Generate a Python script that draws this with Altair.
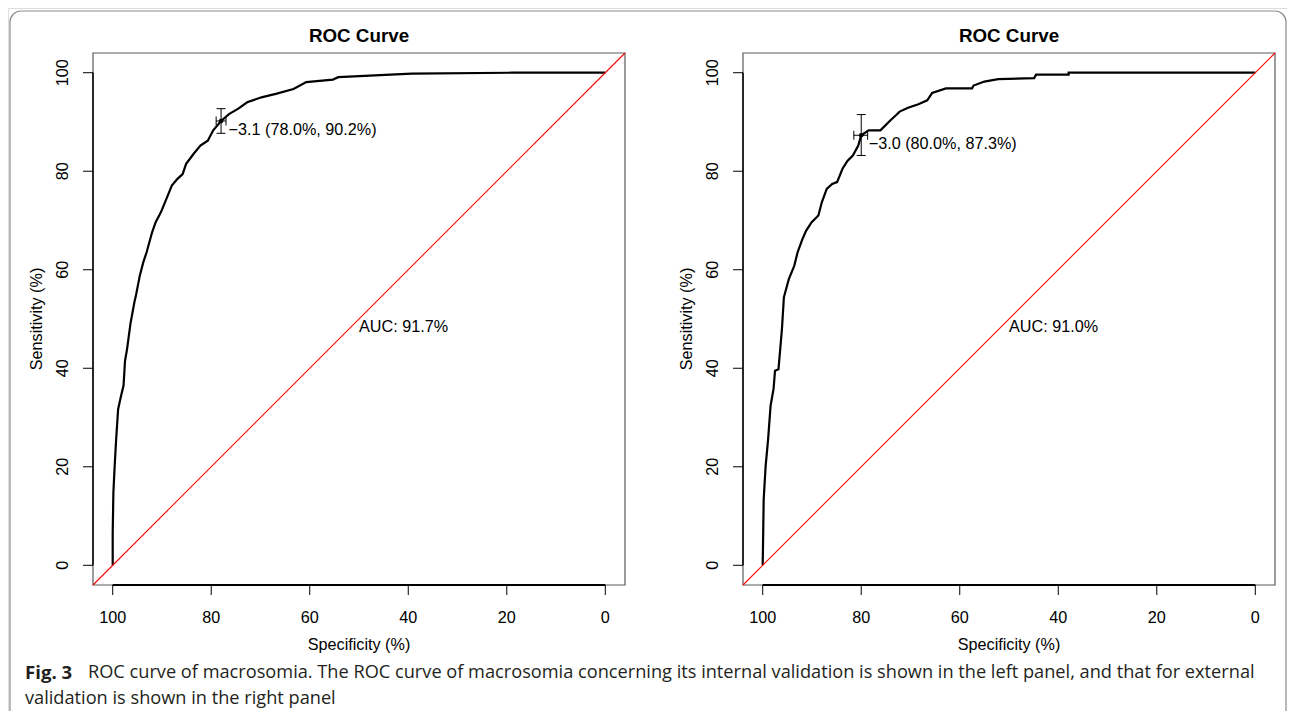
import altair as alt
import pandas as pd

# ---------------- data ----------------
# internal validation (left panel)
spec_int = [100, 100, 99.86, 99.6, 99.3, 98.9, 98.3, 97.8, 97.5, 97.1, 96.4, 95.6, 95.3, 94.5,
            93.8, 93.1, 92.0, 91.3, 90.2, 89.1, 88.0, 86.9, 85.8, 85.1, 83.6, 82.2, 80.7, 79.6,
            78.0, 76.4, 74.5, 72.7, 69.8, 66.9, 63.3, 60.7, 55.3, 54.2, 39.3, 18.9, 0]
sens_int = [0, 6.6, 14.8, 20.2, 25.6, 31.7, 34.4, 36.5, 41.5, 43.8, 49.0, 53.4, 54.7, 58.8,
            61.5, 63.6, 67.6, 69.6, 71.7, 74.4, 77.1, 78.4, 79.4, 81.5, 83.5, 85.2, 86.2, 88.3,
            90.2, 91.6, 92.7, 94.0, 95.0, 95.7, 96.7, 98.1, 98.6, 99.1, 99.8, 100, 100]
# external validation (right panel)
spec_ext = [100, 99.9, 99.8, 99.4, 98.9, 98.4, 97.8, 97.5, 96.8, 96.1, 95.7, 94.7, 93.6, 92.9,
            91.9, 91.2, 90.1, 88.7, 88.0, 87.0, 85.9, 84.9, 83.8, 82.8, 81.7, 80.6, 80.0, 78.5,
            76.1, 75.4, 74.0, 72.9, 72.2, 70.5, 68.4, 66.6, 65.6, 62.8, 57.5, 57.2, 55.0, 52.2,
            44.9, 44.5, 37.9, 37.9, 0]
sens_ext = [0, 6.6, 13.4, 20.2, 25.6, 32.4, 35.8, 39.5, 39.8, 47.9, 54.4, 58.1, 60.8, 63.6,
            66.3, 67.9, 69.6, 71.0, 73.7, 76.4, 77.4, 77.8, 80.5, 82.1, 83.2, 85.2, 87.3, 88.3,
            88.3, 89.0, 90.4, 91.4, 92.1, 92.9, 93.6, 94.4, 95.9, 96.8, 96.8, 97.4, 98.2, 98.7,
            98.9, 99.6, 99.6, 100, 100]

panel_titles = ["ROC Curve", "ROC Curve"]
auc_labels = ["AUC: 91.7%", "AUC: 91.0%"]
thr_labels = ["\u22123.1 (78.0%, 90.2%)", "\u22123.0 (80.0%, 87.3%)"]
thr_spec = [78.0, 80.0]
thr_sens = [90.2, 87.3]
ci_sens_lo = [87.7, 83.2]
ci_sens_hi = [92.7, 91.5]
ci_spec_lo = [77.0, 78.7]
ci_spec_hi = [79.0, 81.5]
auc_pos = [50, 50]
title_pos = [50, 107.5]
tick_values = [0, 20, 40, 60, 80, 100]
tick_labels = ["0", "20", "40", "60", "80", "100"]
axis_mid = 50
x_title = "Specificity (%)"
y_title = "Sensitivity (%)"
caption_bold = "Fig. 3"
caption_line1 = ("ROC curve of macrosomia. The ROC curve of macrosomia concerning its internal "
                 "validation is shown in the left panel, and that for external")
caption_line2 = "validation is shown in the right panel"

# ---------------- layout constants ----------------
W, H = 1279, 703
DOMAIN = [-4, 104]
X_RANGES = [[617, 85], [1267, 735]]
Y_RANGE = [577, 45]
FONT = "Liberation Sans"
FS = 16.2


def panel(i, spec, sens):
    xs = alt.Scale(domain=DOMAIN, range=X_RANGES[i], nice=False, zero=False)
    ys = alt.Scale(domain=DOMAIN, range=Y_RANGE, nice=False, zero=False)

    def X(f):
        return alt.X(f, type="quantitative", scale=xs, axis=None)

    def Y(f):
        return alt.Y(f, type="quantitative", scale=ys, axis=None)

    box_df = pd.DataFrame({"x0": [DOMAIN[0]], "x1": [DOMAIN[1]], "y0": [DOMAIN[0]], "y1": [DOMAIN[1]]})
    box = alt.Chart(box_df).mark_rect(filled=False, stroke="#5a5a5a", strokeWidth=1.2).encode(
        x=X("x0"), x2="x1", y=Y("y0"), y2="y1")

    diag = alt.Chart(box_df).mark_rule(color="#ff0000", strokeWidth=1.1, opacity=1).encode(
        x=X("x1"), y=Y("y0"), x2="x0", y2="y1")

    # axis lines (R style: from first to last tick)
    ax_df = pd.DataFrame({"lo": [tick_values[0]], "hi": [tick_values[-1]],
                          "edge_b": [DOMAIN[0]], "edge_l": [DOMAIN[1]]})
    bottom_line = alt.Chart(ax_df).mark_rule(color="black", strokeWidth=2).encode(
        x=X("hi"), x2="lo", y=Y("edge_b"))
    left_line = alt.Chart(ax_df).mark_rule(color="black", strokeWidth=1.5).encode(
        y=Y("lo"), y2="hi", x=X("edge_l"))

    tk = pd.DataFrame({"v": tick_values, "lab": tick_labels,
                       "edge_b": [DOMAIN[0]] * len(tick_values),
                       "edge_l": [DOMAIN[1]] * len(tick_values)})
    xticks = alt.Chart(tk).mark_tick(orient="vertical", size=10, thickness=1, yOffset=5,
                                     color="black", opacity=1).encode(x=X("v"), y=Y("edge_b"))
    yticks = alt.Chart(tk).mark_tick(orient="horizontal", size=10, thickness=1, xOffset=-5,
                                     color="black", opacity=1).encode(x=X("edge_l"), y=Y("v"))
    xlabels = alt.Chart(tk).mark_text(align="center", baseline="middle", yOffset=33,
                                      font=FONT, fontSize=FS, color="black").encode(
        x=X("v"), y=Y("edge_b"), text="lab:N")
    ylabels = alt.Chart(tk).mark_text(align="center", baseline="middle", angle=270, xOffset=-30,
                                      font=FONT, fontSize=FS, color="black").encode(
        x=X("edge_l"), y=Y("v"), text="lab:N")

    at_df = pd.DataFrame({"mid": [axis_mid], "edge_b": [DOMAIN[0]], "edge_l": [DOMAIN[1]],
                          "xt": [x_title], "yt": [y_title]})
    xtitle = alt.Chart(at_df).mark_text(align="center", baseline="middle", yOffset=59.5,
                                        font=FONT, fontSize=FS, color="black").encode(
        x=X("mid"), y=Y("edge_b"), text="xt:N")
    ytitle = alt.Chart(at_df).mark_text(align="center", baseline="middle", angle=270, xOffset=-56,
                                        font=FONT, fontSize=FS, color="black").encode(
        x=X("edge_l"), y=Y("mid"), text="yt:N")

    curve_df = pd.DataFrame({"spec": spec, "sens": sens, "idx": list(range(len(spec)))})
    curve = alt.Chart(curve_df).mark_line(color="black", strokeWidth=2.2).encode(
        x=X("spec"), y=Y("sens"), order=alt.Order("idx:Q"))

    thr_df = pd.DataFrame({"spec": [thr_spec[i]], "sens": [thr_sens[i]],
                           "slo": [ci_sens_lo[i]], "shi": [ci_sens_hi[i]],
                           "plo": [ci_spec_lo[i]], "phi": [ci_spec_hi[i]],
                           "label": [thr_labels[i]]})
    vbar = alt.Chart(thr_df).mark_rule(color="black", strokeWidth=1).encode(
        x=X("spec"), y=Y("slo"), y2="shi")
    hbar = alt.Chart(thr_df).mark_rule(color="black", strokeWidth=1).encode(
        y=Y("sens"), x=X("plo"), x2="phi")
    cap_kw = dict(color="black", size=9, thickness=1, opacity=1)
    vcap_lo = alt.Chart(thr_df).mark_tick(orient="horizontal", **cap_kw).encode(x=X("spec"), y=Y("slo"))
    vcap_hi = alt.Chart(thr_df).mark_tick(orient="horizontal", **cap_kw).encode(x=X("spec"), y=Y("shi"))
    hcap_lo = alt.Chart(thr_df).mark_tick(orient="vertical", **cap_kw).encode(x=X("plo"), y=Y("sens"))
    hcap_hi = alt.Chart(thr_df).mark_tick(orient="vertical", **cap_kw).encode(x=X("phi"), y=Y("sens"))
    pt = alt.Chart(thr_df).mark_circle(color="black", size=22, opacity=1).encode(
        x=X("spec"), y=Y("sens"))
    thr_text = alt.Chart(thr_df).mark_text(align="left", baseline="middle", dx=7.5, dy=9,
                                           font=FONT, fontSize=FS, color="black").encode(
        x=X("spec"), y=Y("sens"), text="label:N")

    auc_df = pd.DataFrame({"x": [auc_pos[0]], "y": [auc_pos[1]], "label": [auc_labels[i]]})
    auc_text = alt.Chart(auc_df).mark_text(align="left", baseline="top", font=FONT, fontSize=FS,
                                           color="black").encode(
        x=X("x"), y=Y("y"), text="label:N")

    ttl_df = pd.DataFrame({"x": [title_pos[0]], "y": [title_pos[1]], "label": [panel_titles[i]]})
    ttl = alt.Chart(ttl_df).mark_text(align="center", baseline="middle", font=FONT, fontSize=18.8,
                                      fontWeight="bold", color="black").encode(
        x=X("x"), y=Y("y"), text="label:N")

    return alt.layer(box, bottom_line, left_line, xticks, yticks, xlabels, ylabels,
                     xtitle, ytitle, curve, vbar, hbar, vcap_lo, vcap_hi,
                     hcap_lo, hcap_hi, pt, thr_text, auc_text, ttl, diag)


one = pd.DataFrame({"k": [0]})
border = alt.Chart(one).mark_rect(filled=False, stroke="#8c8c8c", strokeWidth=1.2,
                                  cornerRadius=11).encode(
    x=alt.value(2), x2=alt.value(W - 1), y=alt.value(3), y2=alt.value(H + 30))

cap_df = pd.DataFrame({"bold": [caption_bold], "l1": [caption_line1], "l2": [caption_line2]})
cap_bold = alt.Chart(cap_df).mark_text(align="left", baseline="middle", font="Open Sans",
                                       fontSize=18.6, fontWeight="bold", color="#231f20").encode(
    x=alt.value(17), y=alt.value(665), text="bold:N")
cap_l1 = alt.Chart(cap_df).mark_text(align="left", baseline="middle", font="Open Sans",
                                     fontSize=18.2, color="#231f20").encode(
    x=alt.value(80), y=alt.value(665), text="l1:N")
cap_l2 = alt.Chart(cap_df).mark_text(align="left", baseline="middle", font="Open Sans",
                                     fontSize=18.2, color="#231f20").encode(
    x=alt.value(17), y=alt.value(691), text="l2:N")

chart = alt.layer(
    border,
    panel(0, spec_int, sens_int),
    panel(1, spec_ext, sens_ext),
    cap_bold, cap_l1, cap_l2,
).resolve_scale(x="independent", y="independent").properties(
    width=W, height=H, padding=0, background="white",
    autosize=alt.AutoSizeParams(type="none"),
).configure_view(strokeWidth=0).configure(font=FONT)

chart.save("out.html", embed_options={"renderer": "svg", "actions": False})
